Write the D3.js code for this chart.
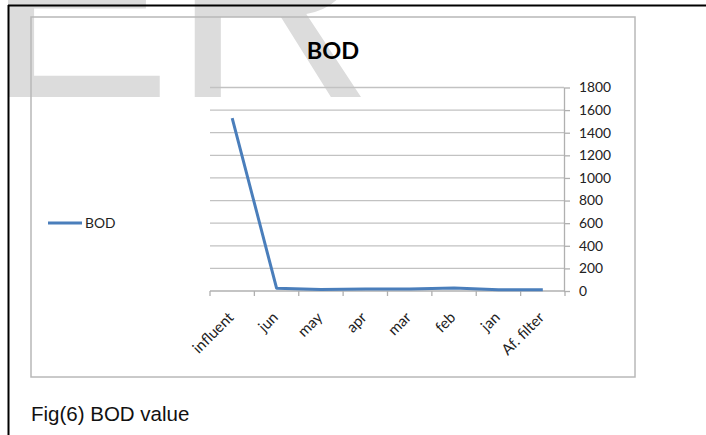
<!DOCTYPE html>
<html><head><meta charset="utf-8">
<script src="https://cdn.jsdelivr.net/npm/d3@7"></script>
<style>body{margin:0;background:#fff} svg{display:block}</style>
</head><body>
<svg id="c" width="706" height="435"></svg>
<script>
// BOD readings per sampling point
const categories = ["influent", "jun", "may", "apr", "mar", "feb", "jan", "Af. filter"];
const bodValues = [1530, 25, 14, 17, 18, 26, 12, 10];
const yTicks = [0, 200, 400, 600, 800, 1000, 1200, 1400, 1600, 1800];
const seriesName = "BOD";
const chartTitle = "BOD";
const caption = "Fig(6) BOD value";
const watermark = "ER";

const svg = d3.select("#c");
const labelFont = "Lato, 'Open Sans', sans-serif";
const lineColor = "#4a7ebb";

// faint page watermark behind everything
svg.append("text")
  .attr("x", -15).attr("y", 97)
  .attr("font-family", "'Liberation Sans', Arial, sans-serif")
  .attr("font-size", 280)
  .attr("fill", "#dcdcdc")
  .text(watermark);

// page frame
svg.append("line").attr("x1", 8).attr("y1", 5.5).attr("x2", 706).attr("y2", 5.5)
  .attr("stroke", "#000").attr("stroke-width", 2);
svg.append("line").attr("x1", 8.5).attr("y1", 5).attr("x2", 8.5).attr("y2", 435)
  .attr("stroke", "#000").attr("stroke-width", 2);

// chart area border
svg.append("rect").attr("x", 31).attr("y", 17).attr("width", 604).attr("height", 360)
  .attr("fill", "none").attr("stroke", "#b8b8b8").attr("stroke-width", 1.5);

// scales
const x = d3.scaleBand().domain(categories).range([210, 565]);
const y = d3.scaleLinear().domain([0, 1800]).range([291, 87.5]);

// horizontal gridlines
svg.append("g").selectAll("line")
  .data(yTicks.filter(t => t > 0))
  .join("line")
  .attr("x1", x.range()[0]).attr("x2", x.range()[1] - 1)
  .attr("y1", d => y(d)).attr("y2", d => y(d))
  .attr("stroke", "#c2c2c2").attr("stroke-width", 1.3);

// value axis on the right
const yAxis = svg.append("g")
  .attr("transform", `translate(${x.range()[1] - 1},0)`)
  .call(d3.axisRight(y).tickValues(yTicks).tickFormat(d3.format("d"))
    .tickSize(6).tickPadding(9).tickSizeOuter(0));
yAxis.select(".domain").attr("stroke", "#b0b0b0").attr("stroke-width", 1.3);
yAxis.selectAll(".tick line").attr("stroke", "#b0b0b0").attr("stroke-width", 1.3);
yAxis.selectAll(".tick text")
  .attr("font-family", labelFont).attr("font-size", 13.8).attr("fill", "#222");

// category axis
const xAxis = svg.append("g").attr("transform", `translate(0,${y(0)})`);
xAxis.append("line")
  .attr("x1", x.range()[0]).attr("x2", x.range()[1])
  .attr("stroke", "#b0b0b0").attr("stroke-width", 1.3);
const boundaries = categories.map(c => x(c)).concat([x.range()[1]]);
xAxis.selectAll("line.tk").data(boundaries).join("line")
  .attr("class", "tk")
  .attr("x1", d => d).attr("x2", d => d).attr("y1", 0).attr("y2", 5)
  .attr("stroke", "#b0b0b0").attr("stroke-width", 1.3);
xAxis.selectAll("text").data(categories).join("text")
  .attr("transform", d => `translate(${x(d) + x.bandwidth() / 2 - 5},${20}) rotate(-45)`)
  .attr("text-anchor", "end")
  .attr("dy", "0.7em")
  .attr("font-family", labelFont).attr("font-size", 15).attr("fill", "#222")
  .text(d => d);

// BOD series line
const line = d3.line()
  .x((d, i) => x(categories[i]) + x.bandwidth() / 2)
  .y(d => y(d));
svg.append("path").datum(bodValues)
  .attr("d", line)
  .attr("fill", "none").attr("stroke", lineColor).attr("stroke-width", 3)
  .attr("stroke-linejoin", "round");

// title
svg.append("text").attr("x", 333).attr("y", 59)
  .attr("text-anchor", "middle")
  .attr("font-family", labelFont).attr("font-weight", "bold").attr("font-size", 23.5)
  .attr("fill", "#000").text(chartTitle);

// legend
svg.append("line").attr("x1", 48).attr("x2", 82).attr("y1", 223).attr("y2", 223)
  .attr("stroke", lineColor).attr("stroke-width", 3);
svg.append("text").attr("x", 85).attr("y", 223).attr("dy", "0.35em")
  .attr("font-family", labelFont).attr("font-size", 13.8).attr("fill", "#222")
  .text(seriesName);

// figure caption
svg.append("text").attr("x", 31).attr("y", 421)
  .attr("font-family", "'Liberation Sans', Arial, sans-serif").attr("font-size", 20.5)
  .attr("fill", "#111").text(caption);
</script>
</body></html>
